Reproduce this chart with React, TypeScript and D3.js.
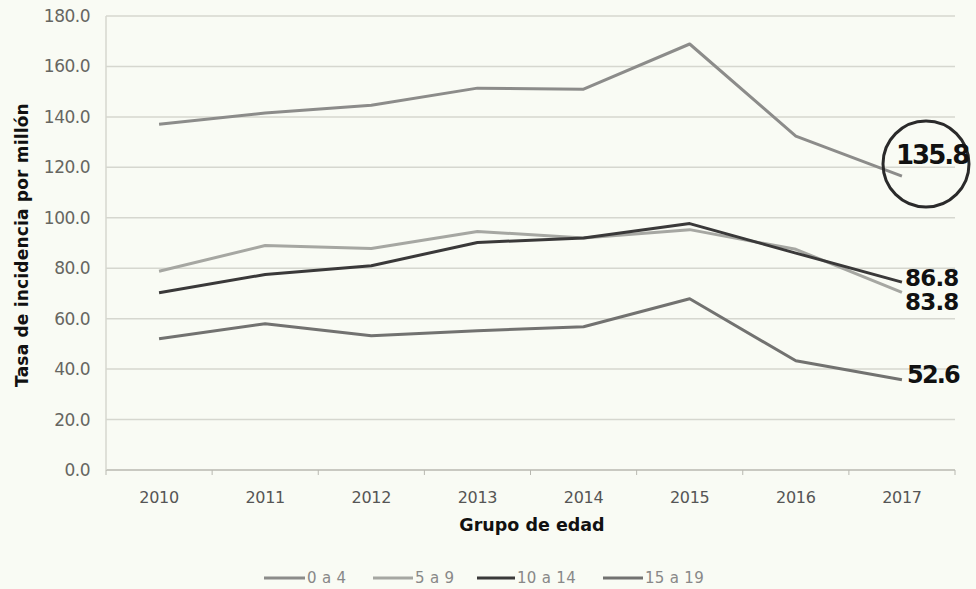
import React from "react";
import * as d3 from "d3";

const years = ["2010", "2011", "2012", "2013", "2014", "2015", "2016", "2017"];
const seriesNames = ["0 a 4", "5 a 9", "10 a 14", "15 a 19"];
const s0a4 = [137.1, 141.5, 144.6, 151.4, 151.0, 168.9, 132.4, 116.5];
const s5a9 = [78.8, 89.0, 87.8, 94.6, 92.0, 95.3, 87.5, 70.4];
const s10a14 = [70.3, 77.5, 81.0, 90.2, 92.0, 97.7, 86.0, 74.5];
const s15a19 = [52.0, 58.0, 53.2, 55.2, 56.8, 67.9, 43.3, 35.8];
const seriesColors = ["#8c8c8a", "#a6a7a2", "#3a3939", "#727270"];
const yTicks = [0, 20, 40, 60, 80, 100, 120, 140, 160, 180];
const endLabels = ["135.8", "86.8", "83.8", "52.6"];

const W = 976, H = 589;
const M = { left: 106, right: 955, top: 16, bottom: 470 };
const FONT = "'DejaVu Sans', 'Noto Sans', sans-serif";

export default function App() {
  const series = [s0a4, s5a9, s10a14, s15a19];
  const x = d3.scaleBand<string>().domain(years).range([M.left, M.right]);
  const y = d3.scaleLinear().domain([0, 180]).range([M.bottom, M.top]);
  const line = d3
    .line<number>()
    .x((_, i) => (x(years[i]) as number) + x.bandwidth() / 2)
    .y((d) => y(d));

  const legendX = [264, 373, 477, 603];
  const legendLineW = [41, 40, 38, 40];

  return (
    <svg width={W} height={H} style={{ display: "block", position: "absolute", left: 0, top: 0, background: "#f9fbf4" }}>
      <rect x={0} y={0} width={W} height={H} fill="#f9fbf4" />
      {yTicks.map((t) => (
        <g key={t}>
          <line x1={M.left} x2={M.right} y1={y(t)} y2={y(t)} stroke={t === 0 ? "#b8b8b0" : "#d6d7cf"} strokeWidth={1.5} />
          <text x={90} y={y(t)} dy="0.35em" textAnchor="end" fontFamily={FONT} fontSize={17} fill="#666661" letterSpacing={-0.5}>
            {t.toFixed(1)}
          </text>
        </g>
      ))}
      <line x1={M.left} x2={M.left} y1={M.top} y2={M.bottom} stroke="#d6d7cf" strokeWidth={1.5} />
      {years.map((yr) => (
        <g key={yr}>
          <line x1={x(yr) as number} x2={x(yr) as number} y1={M.bottom} y2={M.bottom + 5} stroke="#b8b8b0" />
          <text x={(x(yr) as number) + x.bandwidth() / 2} y={497} dy="0.35em" textAnchor="middle" fontFamily={FONT} fontSize={16} fill="#555" letterSpacing={-0.3}>
            {yr}
          </text>
        </g>
      ))}
      <line x1={M.right} x2={M.right} y1={M.bottom} y2={M.bottom + 5} stroke="#b8b8b0" />
      {series.map((s, i) => (
        <path key={i} d={line(s) || ""} fill="none" stroke={seriesColors[i]} strokeWidth={3} strokeLinejoin="round" />
      ))}
      <text x={532} y={525} dy="0.35em" textAnchor="middle" fontFamily={FONT} fontSize={17.5} fontWeight="bold" fill="#111">
        Grupo de edad
      </text>
      <text transform={`translate(28,245) rotate(-90)`} textAnchor="middle" fontFamily={FONT} fontSize={17} fontWeight="bold" fill="#111" letterSpacing={0.2}>
        Tasa de incidencia por millón
      </text>
      {seriesNames.map((n, i) => (
        <g key={n}>
          <line x1={legendX[i]} x2={legendX[i] + legendLineW[i]} y1={578} y2={578} stroke={seriesColors[i]} strokeWidth={3} />
          <text x={legendX[i] + legendLineW[i] + 2} y={578} dy="0.35em" fontFamily={FONT} fontSize={15} fill="#888" letterSpacing={0.3}>
            {n}
          </text>
        </g>
      ))}
      <circle cx={926} cy={164} r={43} fill="none" stroke="#2a2a2a" strokeWidth={3} />
      <text x={896} y={155} dy="0.36em" fontFamily={FONT} fontSize={26} fontWeight="bold" fill="#111" letterSpacing={-2}>
        {endLabels[0]}
      </text>
      <text x={905} y={278} dy="0.36em" fontFamily={FONT} fontSize={23} fontWeight="bold" fill="#111" letterSpacing={-0.8}>
        {endLabels[1]}
      </text>
      <text x={905} y={302} dy="0.36em" fontFamily={FONT} fontSize={23} fontWeight="bold" fill="#111" letterSpacing={-0.8}>
        {endLabels[2]}
      </text>
      <text x={907} y={374} dy="0.36em" fontFamily={FONT} fontSize={24} fontWeight="bold" fill="#111" letterSpacing={-1.8}>
        {endLabels[3]}
      </text>
    </svg>
  );
}
